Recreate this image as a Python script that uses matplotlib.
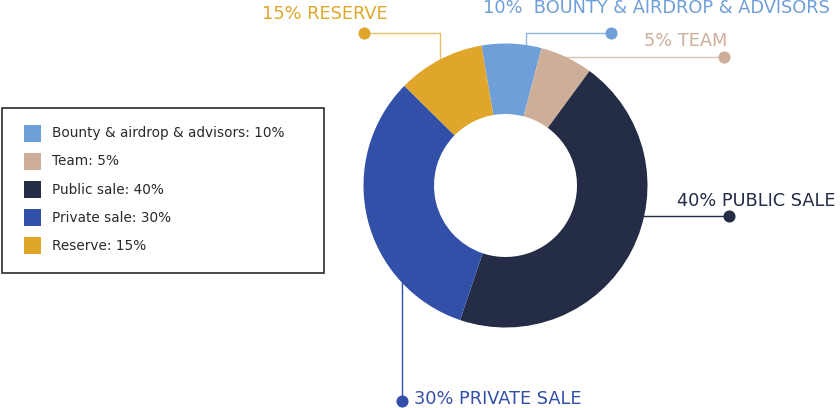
"""
token allocation donut
"""
import numpy as np
import matplotlib
matplotlib.use("Agg")
import matplotlib.pyplot as plt
from matplotlib.patches import Rectangle

W, H = 840, 408

names = ["Bounty & airdrop & advisors", "Team", "Public sale", "Private sale", "Reserve"]
pct_labels = [10, 5, 40, 30, 15]
# slice sizes as they are drawn (they don't follow the labels exactly)
shares = [6.8, 6.0, 45.1, 32.2, 9.9]
callouts = ["10%  BOUNTY & AIRDROP & ADVISORS", "5% TEAM", "40% PUBLIC SALE",
            "30% PRIVATE SALE", "15% RESERVE"]

colors = ["#6f9fd8", "#cdae98", "#242c46", "#3350a9", "#dfa62b"]
line_colors = ["#92b6e3", "#dcc4b2", "#242c46", "#3350a9", "#e8c067"]


def Y(y):
    # picture rows -> axes units (y up)
    return H - y


fig = plt.figure(figsize=(8.4, 4.08), dpi=100, facecolor="white")
ax = fig.add_axes([0, 0, 1, 1])

wedges, _ = ax.pie(shares, colors=colors, startangle=99.8, counterclock=False,
                   radius=142, center=(505.5, Y(185.5)), frame=True,
                   wedgeprops=dict(width=70.5, linewidth=0))
for w in wedges:
    w.set_zorder(3)

# callout lines: dot first, then towards the ring
paths = [
    [(610.7, 32.7), (525.7, 32.7), (525.7, 75)],
    [(724.3, 57.3), (560, 57.3)],
    [(729.3, 216), (630, 216)],
    [(402.3, 400.7), (402.3, 270)],
    [(364.3, 32.7), (440, 32.7), (440, 75)],
]
text_pos = [(483, 12.7), (644, 45.7), (677, 206), (414, 404.5), (262, 19)]

for i in range(len(names)):
    xs = [p[0] for p in paths[i]]
    ys = [Y(p[1]) for p in paths[i]]
    ax.plot(xs, ys, color=line_colors[i], lw=1.0, zorder=2)
    ax.plot(xs[0], ys[0], "o", ms=7.7, color=colors[i], zorder=4)
    tx, ty = text_pos[i]
    ax.text(tx, Y(ty), callouts[i], color=colors[i], fontsize=12.8,
            ha="left", va="baseline", zorder=5)

# legend box
ax.add_patch(Rectangle((2, Y(273)), 322, 165, fill=False, ec="#2b2b2b", lw=1.2, zorder=5))
for i in range(len(names)):
    yc = 133.3 + i * 28.1
    ax.add_patch(Rectangle((24, Y(yc) - 8.5), 17, 17, color=colors[i], lw=0, zorder=5))
    ax.text(52, Y(yc), f"{names[i]}: {pct_labels[i]}%", color="#2a2a2a",
            fontsize=9.8, ha="left", va="center", zorder=5)

ax.set_xlim(0, W)
ax.set_ylim(0, H)
ax.axis("off")

plt.savefig("out.png", dpi=100, facecolor="white")
